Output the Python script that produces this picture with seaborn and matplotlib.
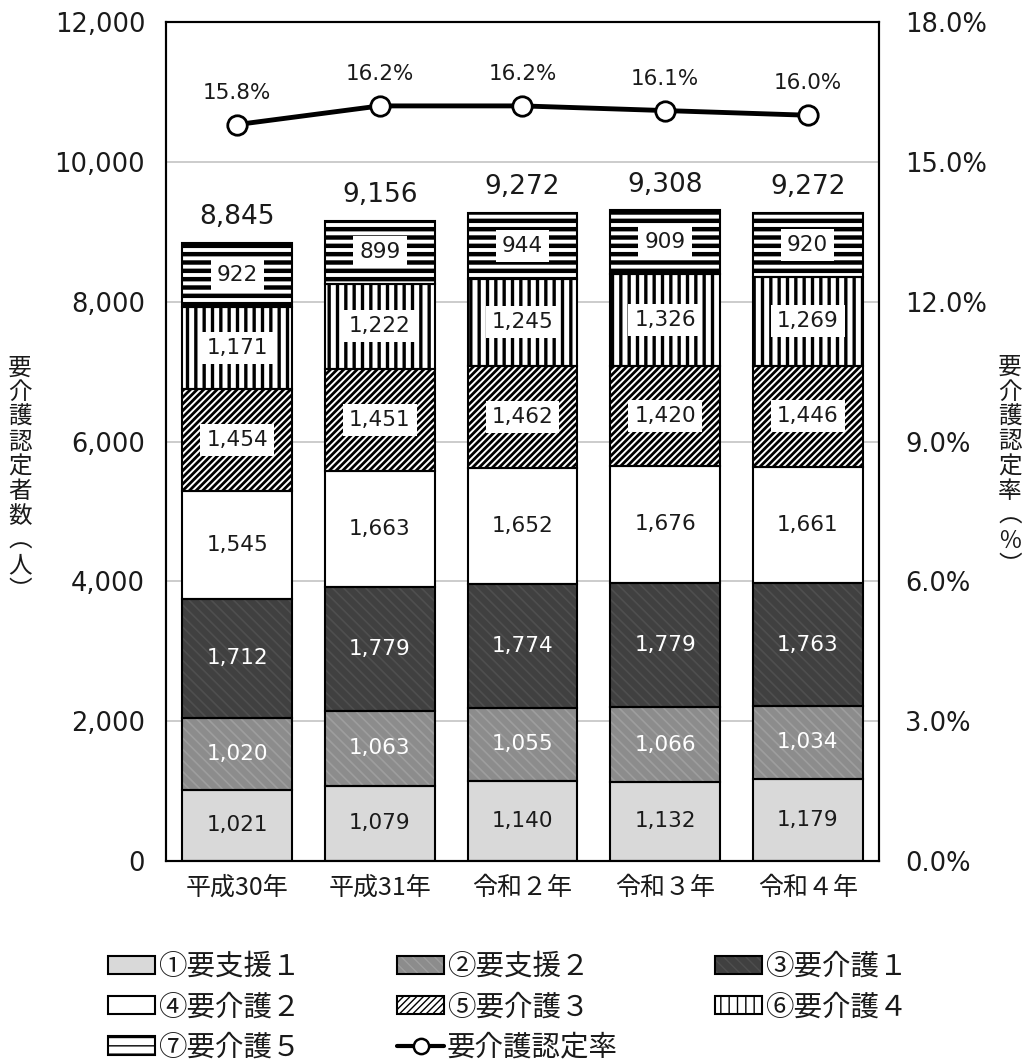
import numpy as np
import matplotlib
matplotlib.use("Agg")
import matplotlib.pyplot as plt
import seaborn as sns
from matplotlib.patches import Patch
from matplotlib.lines import Line2D
from matplotlib.legend_handler import HandlerTuple

# ---------------- data ----------------
years = ["平成30年", "平成31年", "令和２年", "令和３年", "令和４年"]
support1 = [1021, 1079, 1140, 1132, 1179]
support2 = [1020, 1063, 1055, 1066, 1034]
care1 = [1712, 1779, 1774, 1779, 1763]
care2 = [1545, 1663, 1652, 1676, 1661]
care3 = [1454, 1451, 1462, 1420, 1446]
care4 = [1171, 1222, 1245, 1326, 1269]
care5 = [922, 899, 944, 909, 920]
totals = [8845, 9156, 9272, 9308, 9272]
rate = [15.8, 16.2, 16.2, 16.1, 16.0]
series_labels = ["①要支援１", "②要支援２", "③要介護１", "④要介護２",
                 "⑤要介護３", "⑥要介護４", "⑦要介護５"]
rate_label = "要介護認定率"
left_ticks = [0, 2000, 4000, 6000, 8000, 10000, 12000]
right_ticks = [0, 3, 6, 9, 12, 15, 18]

series = [support1, support2, care1, care2, care3, care4, care5]

# ---------------- styles ----------------
face = ["#d9d9d9", "#8c8c8c", "#404040", "#ffffff", "#ffffff", "#ffffff", "#ffffff"]
hatch = [None, "\\\\\\", "\\\\\\", None, "/////", "||", "--"]
hatch_col = ["#d9d9d9", "#9e9e9e", "#4f4f4f", "#ffffff", "#000000", "#000000", "#000000"]
hatch_lw = [1.0, 1.2, 1.2, 1.0, 2.0, 2.4, 3.2]
label_col = ["#1a1a1a", "white", "white", "#1a1a1a", "#1a1a1a", "#1a1a1a", "#1a1a1a"]
boxed = [False, False, False, False, True, True, True]

sns.set_theme(style="white")
plt.rcParams["font.family"] = ["DejaVu Sans", "Noto Sans CJK JP"]
plt.rcParams["axes.unicode_minus"] = False
TXT = "#1a1a1a"
CJK = ["Noto Sans CJK JP", "DejaVu Sans"]

fig = plt.figure(figsize=(10.29, 10.63), dpi=100)
ax = fig.add_axes([0.1613, 0.190, 0.6929, 0.7893])
x = np.arange(len(years))
W = 0.77

bottom = np.zeros(len(years))
handles = []
for i, vals in enumerate(series):
    vals = np.array(vals, dtype=float)
    with plt.rc_context({"hatch.linewidth": hatch_lw[i]}):
        hb = ax.bar(x, vals, W, bottom=bottom, color=face[i], edgecolor=hatch_col[i],
                    hatch=hatch[i], linewidth=0, zorder=2)
    for p in hb:
        if hasattr(p, "set_hatch_linewidth"):
            p.set_hatch_linewidth(hatch_lw[i])
    ob = ax.bar(x, vals, W, bottom=bottom, fill=False, edgecolor="black",
                linewidth=1.5, zorder=3)
    kw = dict(label_type="center", fontsize=15.5, color=label_col[i], zorder=5)
    if boxed[i]:
        kw["bbox"] = dict(boxstyle="square,pad=0.28", fc="white", ec="none")
    ax.bar_label(ob, labels=[f"{int(v):,}" for v in vals], **kw)
    # legend handle
    lw_leg = min(hatch_lw[i], 1.6)
    with plt.rc_context({"hatch.linewidth": lw_leg}):
        hp = Patch(facecolor=face[i], edgecolor=hatch_col[i], hatch=hatch[i], linewidth=0)
    if hasattr(hp, "set_hatch_linewidth"):
        hp.set_hatch_linewidth(lw_leg)
    op = Patch(fill=False, edgecolor="black", linewidth=1.5)
    handles.append((hp, op))
    bottom += vals
    last = ob

ax.bar_label(last, labels=[f"{t:,}" for t in totals], padding=9, fontsize=19, color=TXT)

ax.set_xlim(-0.5, len(years) - 0.5)
ax.set_ylim(0, 12000)
ax.set_yticks(left_ticks, [f"{t:,}" for t in left_ticks])
ax.set_xticks(x, years)
for t in ax.get_xticklabels():
    t.set_family(CJK)
ax.yaxis.grid(True, color="#c8c8c8", linewidth=1.3, zorder=0)
ax.xaxis.grid(False)
ax.set_axisbelow(True)
ax.tick_params(axis="y", length=0, pad=15, labelsize=18.5, labelcolor=TXT)
ax.tick_params(axis="x", length=0, pad=10, labelsize=18, labelcolor=TXT)

ax2 = ax.twinx()
sns.lineplot(x=x, y=rate, ax=ax2, color="black", linewidth=3.5, marker="o",
             markersize=14, markerfacecolor="white", markeredgecolor="black",
             markeredgewidth=2, legend=False, zorder=6)
for xi, r in zip(x, rate):
    ax2.annotate(f"{r:.1f}%", (xi, r), xytext=(0, 23), textcoords="offset points",
                 ha="center", va="center", fontsize=15.5, color=TXT)
ax2.set_ylim(0, 18)
ax2.set_yticks(right_ticks, [f"{t:.1f}%" for t in right_ticks])
ax2.tick_params(axis="y", length=0, pad=19, labelsize=18.5, labelcolor=TXT)
ax2.grid(False)
for a in (ax, ax2):
    for s in a.spines.values():
        s.set_visible(True)
        s.set_color("black")
        s.set_linewidth(1.5)

# vertical axis titles
fig.text(0.0194, 0.549, "\n".join("要介護認定者数︵人︶"), ha="center", va="center",
         fontsize=17, linespacing=1.1, color=TXT, family=CJK)
fig.text(0.9815, 0.561, "\n".join("要介護認定率︵％︶"), ha="center", va="center",
         fontsize=17, linespacing=1.1, color=TXT, family=CJK)

# legend (row-major order via column-major reordering)
line_h = Line2D([], [], color="black", linewidth=3, marker="o", markersize=11,
                markerfacecolor="white", markeredgecolor="black", markeredgewidth=1.8)
all_h = handles + [line_h]
all_l = series_labels + [rate_label]
order = [0, 3, 6, 1, 4, 7, 2, 5]
fig.legend([all_h[k] for k in order], [all_l[k] for k in order], ncol=3,
           loc="upper left", bbox_to_anchor=(108 / 1029, 1 - 952 / 1063),
           frameon=False, prop={"family": CJK, "size": 20.5},
           handlelength=1.65, handleheight=0.6,
           handletextpad=0.1, columnspacing=3.4, labelspacing=0.36,
           borderaxespad=0, borderpad=0,
           handler_map={tuple: HandlerTuple(ndivide=1, pad=0)},
           labelcolor=TXT)

fig.savefig("out.png", dpi=100)
